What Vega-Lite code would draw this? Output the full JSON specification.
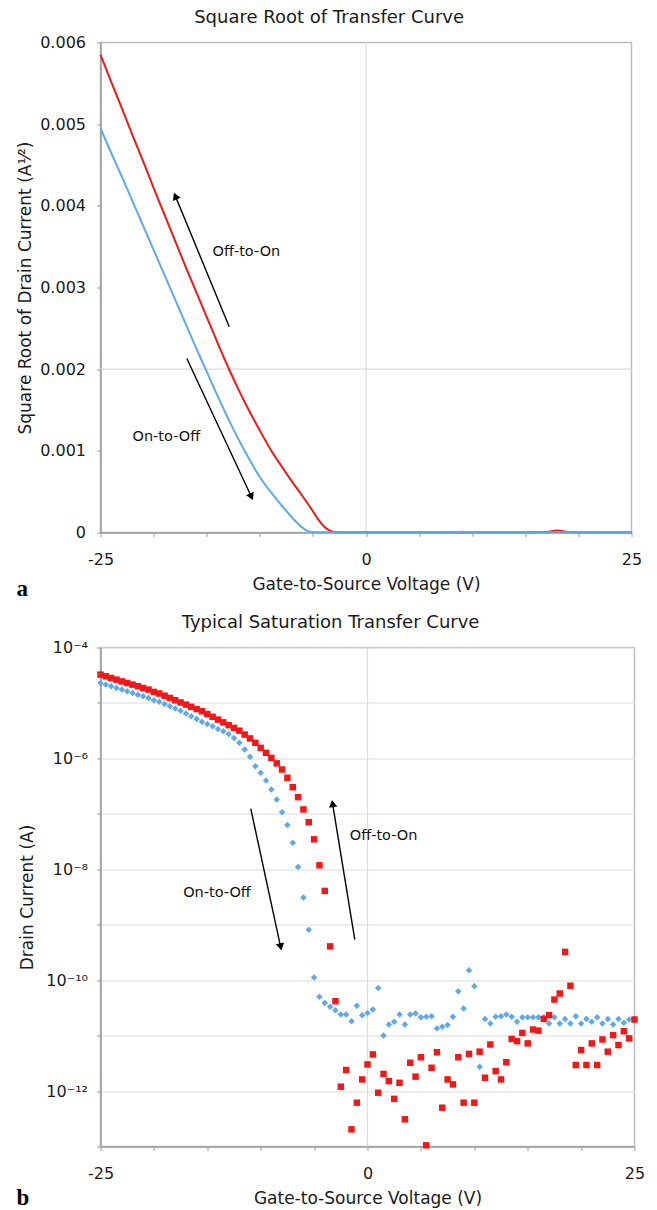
{
  "$schema": "https://vega.github.io/schema/vega-lite/v6.json",
  "background": "white",
  "padding": {"left": 15.5, "top": 7.5, "right": 5, "bottom": 2},
  "spacing": 11,
  "config": {
    "font": "DejaVu Sans",
    "view": {"stroke": "#bdbdbd", "strokeWidth": 1.5},
    "title": {"font": "DejaVu Sans", "fontSize": 18, "fontWeight": "normal", "color": "#1a1a1a", "offset": 7.5, "frame": "bounds", "anchor": "middle"},
    "axis": {
      "labelFont": "DejaVu Sans", "titleFont": "DejaVu Sans",
      "labelFontSize": 16, "titleFontSize": 17, "titleFontWeight": "normal",
      "labelColor": "#1a1a1a", "titleColor": "#1a1a1a",
      "domainColor": "#9a9a9a", "domainWidth": 1.5,
      "tickColor": "#9a9a9a", "tickSize": 4,
      "gridColor": "#dcdcdc", "gridWidth": 1.2,
      "labelFlush": false, "labelOverlap": false
    }
  },
  "datasets": {
    "sqrt": [
      {"v": -25, "r": 0.00585, "s": "Off-to-On"}, {"v": -24, "r": 0.00552, "s": "Off-to-On"}, {"v": -23, "r": 0.0052, "s": "Off-to-On"},
      {"v": -22, "r": 0.00487, "s": "Off-to-On"}, {"v": -21, "r": 0.00455, "s": "Off-to-On"}, {"v": -20, "r": 0.00422, "s": "Off-to-On"},
      {"v": -19, "r": 0.0039, "s": "Off-to-On"}, {"v": -18, "r": 0.00358, "s": "Off-to-On"}, {"v": -17, "r": 0.00326, "s": "Off-to-On"},
      {"v": -16, "r": 0.00295, "s": "Off-to-On"}, {"v": -15, "r": 0.00264, "s": "Off-to-On"}, {"v": -14, "r": 0.00233, "s": "Off-to-On"},
      {"v": -13, "r": 0.00203, "s": "Off-to-On"}, {"v": -12, "r": 0.00175, "s": "Off-to-On"}, {"v": -11, "r": 0.00149, "s": "Off-to-On"},
      {"v": -10, "r": 0.00125, "s": "Off-to-On"}, {"v": -9, "r": 0.00102, "s": "Off-to-On"}, {"v": -8, "r": 0.00082, "s": "Off-to-On"},
      {"v": -7, "r": 0.00063, "s": "Off-to-On"}, {"v": -6, "r": 0.00045, "s": "Off-to-On"}, {"v": -5, "r": 0.00026, "s": "Off-to-On"},
      {"v": -4.5, "r": 0.00016, "s": "Off-to-On"}, {"v": -4, "r": 0.00008, "s": "Off-to-On"}, {"v": -3.5, "r": 0.00003, "s": "Off-to-On"},
      {"v": -3, "r": 0.000006, "s": "Off-to-On"}, {"v": -2, "r": 0.000003, "s": "Off-to-On"}, {"v": 0, "r": 0.000003, "s": "Off-to-On"},
      {"v": 5, "r": 0.000003, "s": "Off-to-On"}, {"v": 10, "r": 0.000003, "s": "Off-to-On"}, {"v": 15, "r": 0.000004, "s": "Off-to-On"},
      {"v": 17, "r": 0.000005, "s": "Off-to-On"}, {"v": 18, "r": 0.000025, "s": "Off-to-On"}, {"v": 19, "r": 0.000006, "s": "Off-to-On"},
      {"v": 20, "r": 0.000004, "s": "Off-to-On"}, {"v": 25, "r": 0.000004, "s": "Off-to-On"},
      {"v": -25, "r": 0.00495, "s": "On-to-Off"}, {"v": -24, "r": 0.00465, "s": "On-to-Off"}, {"v": -23, "r": 0.00436, "s": "On-to-Off"},
      {"v": -22, "r": 0.00406, "s": "On-to-Off"}, {"v": -21, "r": 0.00376, "s": "On-to-Off"}, {"v": -20, "r": 0.00346, "s": "On-to-Off"},
      {"v": -19, "r": 0.00316, "s": "On-to-Off"}, {"v": -18, "r": 0.00286, "s": "On-to-Off"}, {"v": -17, "r": 0.00256, "s": "On-to-Off"},
      {"v": -16, "r": 0.00226, "s": "On-to-Off"}, {"v": -15, "r": 0.00197, "s": "On-to-Off"}, {"v": -14, "r": 0.00168, "s": "On-to-Off"},
      {"v": -13, "r": 0.0014, "s": "On-to-Off"}, {"v": -12, "r": 0.00114, "s": "On-to-Off"}, {"v": -11, "r": 0.0009, "s": "On-to-Off"},
      {"v": -10, "r": 0.00068, "s": "On-to-Off"}, {"v": -9, "r": 0.0005, "s": "On-to-Off"}, {"v": -8, "r": 0.00034, "s": "On-to-Off"},
      {"v": -7, "r": 0.00019, "s": "On-to-Off"}, {"v": -6.5, "r": 0.00012, "s": "On-to-Off"}, {"v": -6, "r": 0.00006, "s": "On-to-Off"},
      {"v": -5.5, "r": 0.00002, "s": "On-to-Off"}, {"v": -5, "r": 0.000006, "s": "On-to-Off"}, {"v": -4, "r": 0.000002, "s": "On-to-Off"},
      {"v": 0, "r": 0.000002, "s": "On-to-Off"}, {"v": 8, "r": 0.000003, "s": "On-to-Off"}, {"v": 9, "r": 0.000008, "s": "On-to-Off"},
      {"v": 10, "r": 0.000004, "s": "On-to-Off"}, {"v": 15, "r": 0.000002, "s": "On-to-Off"}, {"v": 25, "r": 0.000002, "s": "On-to-Off"}
    ],
    "ids": [
      {"v": -25, "i": 2.29e-5, "s": "On-to-Off"}, {"v": -24.5, "i": 2.14e-5, "s": "On-to-Off"}, {"v": -24, "i": 2.0e-5, "s": "On-to-Off"},
      {"v": -23.5, "i": 1.86e-5, "s": "On-to-Off"}, {"v": -23, "i": 1.74e-5, "s": "On-to-Off"}, {"v": -22.5, "i": 1.62e-5, "s": "On-to-Off"},
      {"v": -22, "i": 1.51e-5, "s": "On-to-Off"}, {"v": -21.5, "i": 1.41e-5, "s": "On-to-Off"}, {"v": -21, "i": 1.32e-5, "s": "On-to-Off"},
      {"v": -20.5, "i": 1.23e-5, "s": "On-to-Off"}, {"v": -20, "i": 1.12e-5, "s": "On-to-Off"}, {"v": -19.5, "i": 1.05e-5, "s": "On-to-Off"},
      {"v": -19, "i": 9.55e-6, "s": "On-to-Off"}, {"v": -18.5, "i": 8.71e-6, "s": "On-to-Off"}, {"v": -18, "i": 7.94e-6, "s": "On-to-Off"},
      {"v": -17.5, "i": 7.24e-6, "s": "On-to-Off"}, {"v": -17, "i": 6.46e-6, "s": "On-to-Off"}, {"v": -16.5, "i": 5.75e-6, "s": "On-to-Off"},
      {"v": -16, "i": 5.13e-6, "s": "On-to-Off"}, {"v": -15.5, "i": 4.57e-6, "s": "On-to-Off"}, {"v": -15, "i": 4.17e-6, "s": "On-to-Off"},
      {"v": -14.5, "i": 3.8e-6, "s": "On-to-Off"}, {"v": -14, "i": 3.39e-6, "s": "On-to-Off"}, {"v": -13.5, "i": 3.09e-6, "s": "On-to-Off"},
      {"v": -13, "i": 2.75e-6, "s": "On-to-Off"}, {"v": -12.5, "i": 2.34e-6, "s": "On-to-Off"}, {"v": -12, "i": 1.91e-6, "s": "On-to-Off"},
      {"v": -11.5, "i": 1.45e-6, "s": "On-to-Off"}, {"v": -11, "i": 1.07e-6, "s": "On-to-Off"}, {"v": -10.5, "i": 7.24e-7, "s": "On-to-Off"},
      {"v": -10, "i": 5.5e-7, "s": "On-to-Off"}, {"v": -9.5, "i": 3.98e-7, "s": "On-to-Off"}, {"v": -9, "i": 2.75e-7, "s": "On-to-Off"},
      {"v": -8.5, "i": 1.82e-7, "s": "On-to-Off"}, {"v": -8, "i": 1.07e-7, "s": "On-to-Off"}, {"v": -7.5, "i": 6.31e-8, "s": "On-to-Off"},
      {"v": -7, "i": 3.02e-8, "s": "On-to-Off"}, {"v": -6.5, "i": 1.1e-8, "s": "On-to-Off"}, {"v": -6, "i": 3.09e-9, "s": "On-to-Off"},
      {"v": -5.5, "i": 8.13e-10, "s": "On-to-Off"}, {"v": -5, "i": 1.12e-10, "s": "On-to-Off"}, {"v": -4.5, "i": 5.01e-11, "s": "On-to-Off"},
      {"v": -4, "i": 3.89e-11, "s": "On-to-Off"}, {"v": -3.5, "i": 3.31e-11, "s": "On-to-Off"}, {"v": -3, "i": 2.88e-11, "s": "On-to-Off"},
      {"v": -2.5, "i": 2.4e-11, "s": "On-to-Off"}, {"v": -2, "i": 2.4e-11, "s": "On-to-Off"}, {"v": -1.5, "i": 1.82e-11, "s": "On-to-Off"},
      {"v": -1, "i": 3.47e-11, "s": "On-to-Off"}, {"v": -0.5, "i": 2.34e-11, "s": "On-to-Off"}, {"v": 0, "i": 2.57e-11, "s": "On-to-Off"},
      {"v": 0.5, "i": 2.95e-11, "s": "On-to-Off"}, {"v": 1, "i": 7.24e-11, "s": "On-to-Off"}, {"v": 1.5, "i": 1.0e-11, "s": "On-to-Off"},
      {"v": 2, "i": 1.58e-11, "s": "On-to-Off"}, {"v": 2.5, "i": 1.78e-11, "s": "On-to-Off"}, {"v": 3, "i": 2.4e-11, "s": "On-to-Off"},
      {"v": 3.5, "i": 1.58e-11, "s": "On-to-Off"}, {"v": 4, "i": 2.4e-11, "s": "On-to-Off"}, {"v": 4.5, "i": 2.51e-11, "s": "On-to-Off"},
      {"v": 5, "i": 2.14e-11, "s": "On-to-Off"}, {"v": 5.5, "i": 2.19e-11, "s": "On-to-Off"}, {"v": 6, "i": 2.24e-11, "s": "On-to-Off"},
      {"v": 6.5, "i": 1.35e-11, "s": "On-to-Off"}, {"v": 7, "i": 1.45e-11, "s": "On-to-Off"}, {"v": 7.5, "i": 1.55e-11, "s": "On-to-Off"},
      {"v": 8, "i": 2.19e-11, "s": "On-to-Off"}, {"v": 8.5, "i": 6.31e-11, "s": "On-to-Off"}, {"v": 9, "i": 3.09e-11, "s": "On-to-Off"},
      {"v": 9.5, "i": 1.51e-10, "s": "On-to-Off"}, {"v": 10, "i": 7.76e-11, "s": "On-to-Off"}, {"v": 10.5, "i": 2.75e-12, "s": "On-to-Off"},
      {"v": 11, "i": 2.0e-11, "s": "On-to-Off"}, {"v": 11.5, "i": 1.66e-11, "s": "On-to-Off"}, {"v": 12, "i": 2.19e-11, "s": "On-to-Off"},
      {"v": 12.5, "i": 2.24e-11, "s": "On-to-Off"}, {"v": 13, "i": 2.4e-11, "s": "On-to-Off"}, {"v": 13.5, "i": 2.19e-11, "s": "On-to-Off"},
      {"v": 14, "i": 1.78e-11, "s": "On-to-Off"}, {"v": 14.5, "i": 2.14e-11, "s": "On-to-Off"}, {"v": 15, "i": 2.14e-11, "s": "On-to-Off"},
      {"v": 15.5, "i": 2.14e-11, "s": "On-to-Off"}, {"v": 16, "i": 2.14e-11, "s": "On-to-Off"}, {"v": 16.5, "i": 2.14e-11, "s": "On-to-Off"},
      {"v": 17, "i": 1.66e-11, "s": "On-to-Off"}, {"v": 17.5, "i": 2.14e-11, "s": "On-to-Off"}, {"v": 18, "i": 1.66e-11, "s": "On-to-Off"},
      {"v": 18.5, "i": 2.0e-11, "s": "On-to-Off"}, {"v": 19, "i": 1.66e-11, "s": "On-to-Off"}, {"v": 19.5, "i": 2.24e-11, "s": "On-to-Off"},
      {"v": 20, "i": 1.66e-11, "s": "On-to-Off"}, {"v": 20.5, "i": 2.0e-11, "s": "On-to-Off"}, {"v": 21, "i": 1.78e-11, "s": "On-to-Off"},
      {"v": 21.5, "i": 2.14e-11, "s": "On-to-Off"}, {"v": 22, "i": 1.66e-11, "s": "On-to-Off"}, {"v": 22.5, "i": 2.0e-11, "s": "On-to-Off"},
      {"v": 23, "i": 1.58e-11, "s": "On-to-Off"}, {"v": 23.5, "i": 2.0e-11, "s": "On-to-Off"}, {"v": 24, "i": 1.7e-11, "s": "On-to-Off"},
      {"v": 24.5, "i": 1.95e-11, "s": "On-to-Off"}, {"v": 25, "i": 1.95e-11, "s": "On-to-Off"},
      {"v": -25, "i": 3.24e-5, "s": "Off-to-On"}, {"v": -24.5, "i": 3.02e-5, "s": "Off-to-On"}, {"v": -24, "i": 2.82e-5, "s": "Off-to-On"},
      {"v": -23.5, "i": 2.63e-5, "s": "Off-to-On"}, {"v": -23, "i": 2.45e-5, "s": "Off-to-On"}, {"v": -22.5, "i": 2.29e-5, "s": "Off-to-On"},
      {"v": -22, "i": 2.14e-5, "s": "Off-to-On"}, {"v": -21.5, "i": 2.0e-5, "s": "Off-to-On"}, {"v": -21, "i": 1.86e-5, "s": "Off-to-On"},
      {"v": -20.5, "i": 1.74e-5, "s": "Off-to-On"}, {"v": -20, "i": 1.58e-5, "s": "Off-to-On"}, {"v": -19.5, "i": 1.48e-5, "s": "Off-to-On"},
      {"v": -19, "i": 1.35e-5, "s": "Off-to-On"}, {"v": -18.5, "i": 1.23e-5, "s": "Off-to-On"}, {"v": -18, "i": 1.12e-5, "s": "Off-to-On"},
      {"v": -17.5, "i": 1.02e-5, "s": "Off-to-On"}, {"v": -17, "i": 9.33e-6, "s": "Off-to-On"}, {"v": -16.5, "i": 8.51e-6, "s": "Off-to-On"},
      {"v": -16, "i": 7.76e-6, "s": "Off-to-On"}, {"v": -15.5, "i": 7.08e-6, "s": "Off-to-On"}, {"v": -15, "i": 6.31e-6, "s": "Off-to-On"},
      {"v": -14.5, "i": 5.62e-6, "s": "Off-to-On"}, {"v": -14, "i": 5.01e-6, "s": "Off-to-On"}, {"v": -13.5, "i": 4.47e-6, "s": "Off-to-On"},
      {"v": -13, "i": 3.98e-6, "s": "Off-to-On"}, {"v": -12.5, "i": 3.55e-6, "s": "Off-to-On"}, {"v": -12, "i": 3.16e-6, "s": "Off-to-On"},
      {"v": -11.5, "i": 2.69e-6, "s": "Off-to-On"}, {"v": -11, "i": 2.29e-6, "s": "Off-to-On"}, {"v": -10.5, "i": 1.91e-6, "s": "Off-to-On"},
      {"v": -10, "i": 1.55e-6, "s": "Off-to-On"}, {"v": -9.5, "i": 1.26e-6, "s": "Off-to-On"}, {"v": -9, "i": 1.02e-6, "s": "Off-to-On"},
      {"v": -8.5, "i": 8.13e-7, "s": "Off-to-On"}, {"v": -8, "i": 6.31e-7, "s": "Off-to-On"}, {"v": -7.5, "i": 4.47e-7, "s": "Off-to-On"},
      {"v": -7, "i": 3.02e-7, "s": "Off-to-On"}, {"v": -6.5, "i": 2.0e-7, "s": "Off-to-On"}, {"v": -6, "i": 1.2e-7, "s": "Off-to-On"},
      {"v": -5.5, "i": 7.08e-8, "s": "Off-to-On"}, {"v": -5, "i": 3.47e-8, "s": "Off-to-On"}, {"v": -4.5, "i": 1.18e-8, "s": "Off-to-On"},
      {"v": -4, "i": 4.07e-9, "s": "Off-to-On"}, {"v": -3.5, "i": 4.07e-10, "s": "Off-to-On"}, {"v": -3, "i": 4.17e-11, "s": "Off-to-On"},
      {"v": -2.5, "i": 1.2e-12, "s": "Off-to-On"}, {"v": -2, "i": 2.4e-12, "s": "Off-to-On"}, {"v": -1.5, "i": 2.04e-13, "s": "Off-to-On"},
      {"v": -1, "i": 6.17e-13, "s": "Off-to-On"}, {"v": -0.5, "i": 1.62e-12, "s": "Off-to-On"}, {"v": 0, "i": 3.02e-12, "s": "Off-to-On"},
      {"v": 0.5, "i": 4.57e-12, "s": "Off-to-On"}, {"v": 1, "i": 9.33e-13, "s": "Off-to-On"}, {"v": 1.5, "i": 2.04e-12, "s": "Off-to-On"},
      {"v": 2, "i": 1.51e-12, "s": "Off-to-On"}, {"v": 2.5, "i": 7.24e-13, "s": "Off-to-On"}, {"v": 3, "i": 1.41e-12, "s": "Off-to-On"},
      {"v": 3.5, "i": 3.09e-13, "s": "Off-to-On"}, {"v": 4, "i": 3.24e-12, "s": "Off-to-On"}, {"v": 4.5, "i": 1.82e-12, "s": "Off-to-On"},
      {"v": 5, "i": 4.07e-12, "s": "Off-to-On"}, {"v": 5.5, "i": 1.05e-13, "s": "Off-to-On"}, {"v": 6, "i": 2.63e-12, "s": "Off-to-On"},
      {"v": 6.5, "i": 5.01e-12, "s": "Off-to-On"}, {"v": 7, "i": 5.01e-13, "s": "Off-to-On"}, {"v": 7.5, "i": 1.62e-12, "s": "Off-to-On"},
      {"v": 8, "i": 1.32e-12, "s": "Off-to-On"}, {"v": 8.5, "i": 4.07e-12, "s": "Off-to-On"}, {"v": 9, "i": 6.17e-13, "s": "Off-to-On"},
      {"v": 9.5, "i": 4.68e-12, "s": "Off-to-On"}, {"v": 10, "i": 6.17e-13, "s": "Off-to-On"}, {"v": 10.5, "i": 5.13e-12, "s": "Off-to-On"},
      {"v": 11, "i": 1.74e-12, "s": "Off-to-On"}, {"v": 11.5, "i": 6.92e-12, "s": "Off-to-On"}, {"v": 12, "i": 2.29e-12, "s": "Off-to-On"},
      {"v": 12.5, "i": 1.62e-12, "s": "Off-to-On"}, {"v": 13, "i": 3.31e-12, "s": "Off-to-On"}, {"v": 13.5, "i": 8.71e-12, "s": "Off-to-On"},
      {"v": 14, "i": 7.94e-12, "s": "Off-to-On"}, {"v": 14.5, "i": 1.12e-11, "s": "Off-to-On"}, {"v": 15, "i": 7.24e-12, "s": "Off-to-On"},
      {"v": 15.5, "i": 1.29e-11, "s": "Off-to-On"}, {"v": 16, "i": 1.23e-11, "s": "Off-to-On"}, {"v": 16.5, "i": 2.0e-11, "s": "Off-to-On"},
      {"v": 17, "i": 2.34e-11, "s": "Off-to-On"}, {"v": 17.5, "i": 4.47e-11, "s": "Off-to-On"}, {"v": 18, "i": 5.75e-11, "s": "Off-to-On"},
      {"v": 18.5, "i": 3.24e-10, "s": "Off-to-On"}, {"v": 19, "i": 7.94e-11, "s": "Off-to-On"}, {"v": 19.5, "i": 2.95e-12, "s": "Off-to-On"},
      {"v": 20, "i": 5.5e-12, "s": "Off-to-On"}, {"v": 20.5, "i": 2.95e-12, "s": "Off-to-On"}, {"v": 21, "i": 7.24e-12, "s": "Off-to-On"},
      {"v": 21.5, "i": 2.95e-12, "s": "Off-to-On"}, {"v": 22, "i": 8.51e-12, "s": "Off-to-On"}, {"v": 22.5, "i": 5.13e-12, "s": "Off-to-On"},
      {"v": 23, "i": 1.02e-11, "s": "Off-to-On"}, {"v": 23.5, "i": 6.76e-12, "s": "Off-to-On"}, {"v": 24, "i": 1.2e-11, "s": "Off-to-On"},
      {"v": 24.5, "i": 8.91e-12, "s": "Off-to-On"}, {"v": 25, "i": 1.95e-11, "s": "Off-to-On"}
    ]
  },
  "vconcat": [
    {
      "width": 531,
      "height": 490,
      "title": {"text": "Square Root of Transfer Curve"},
      "layer": [
        {
          "data": {"values": [{}]},
          "mark": {"type": "rule", "color": "#dcdcdc", "strokeWidth": 1.2},
          "encoding": {
            "x": {"datum": 0, "type": "quantitative", "scale": {"domain": [-25, 25], "nice": false},
              "axis": {"title": "Gate-to-Source Voltage (V)", "values": [-25, -20, -15, -10, -5, 0, 5, 10, 15, 20, 25],
                "labelExpr": "datum.value == -25 ? '-25' : datum.value == 0 ? '0' : datum.value == 25 ? '25' : ''",
                "labelPadding": 15, "titlePadding": 9, "grid": false}}
          }
        },
        {
          "data": {"values": [{}]},
          "mark": {"type": "rule", "color": "#dcdcdc", "strokeWidth": 1.2},
          "encoding": {
            "y": {"datum": 0.002, "type": "quantitative", "scale": {"domain": [0, 0.006], "nice": false},
              "axis": {"title": "Square Root of Drain Current (A¹⁄²)", "values": [0, 0.001, 0.002, 0.003, 0.004, 0.005, 0.006],
                "labelExpr": "datum.value == 0 ? '0' : format(datum.value, '.3f')",
                "labelPadding": 11, "titlePadding": 5, "grid": false}}
          }
        },
        {
          "data": {"name": "sqrt"},
          "mark": {"type": "line", "strokeWidth": 2, "interpolate": "monotone"},
          "encoding": {
            "x": {"field": "v", "type": "quantitative"},
            "y": {"field": "r", "type": "quantitative"},
            "color": {"field": "s", "type": "nominal", "scale": {"domain": ["On-to-Off", "Off-to-On"], "range": ["#5ea9ea", "#f01818"]}, "legend": null}
          }
        },
        {
          "data": {"values": [
            {"x1": -12.88, "y1": 0.00252, "x2": -17.95, "y2": 0.004119},
            {"x1": -16.87, "y1": 0.00213, "x2": -10.79, "y2": 0.000438}
          ]},
          "mark": {"type": "rule", "color": "black", "strokeWidth": 1.4},
          "encoding": {
            "x": {"field": "x1", "type": "quantitative"},
            "y": {"field": "y1", "type": "quantitative"},
            "x2": {"field": "x2"},
            "y2": {"field": "y2"}
          }
        },
        {
          "data": {"values": [{"x": -17.95, "y": 0.004119}]},
          "mark": {"type": "point", "shape": "triangle-up", "filled": true, "color": "black", "opacity": 1, "size": 70, "angle": 337.6},
          "encoding": {
            "x": {"field": "x", "type": "quantitative"},
            "y": {"field": "y", "type": "quantitative"}
          }
        },
        {
          "data": {"values": [{"x": -10.79, "y": 0.000438}]},
          "mark": {"type": "point", "shape": "triangle-up", "filled": true, "color": "black", "opacity": 1, "size": 70, "angle": 154.9},
          "encoding": {
            "x": {"field": "x", "type": "quantitative"},
            "y": {"field": "y", "type": "quantitative"}
          }
        },
        {
          "data": {"values": [
            {"x": -14.45, "y": 0.00343, "label": "Off-to-On"},
            {"x": -21.99, "y": 0.001175, "label": "On-to-Off"}
          ]},
          "mark": {"type": "text", "align": "left", "baseline": "middle", "fontSize": 14.5, "color": "#111"},
          "encoding": {
            "x": {"field": "x", "type": "quantitative"},
            "y": {"field": "y", "type": "quantitative"},
            "text": {"field": "label"}
          }
        },
        {
          "data": {"values": [{"x": -25, "y": 0, "label": "a"}]},
          "mark": {"type": "text", "align": "left", "baseline": "alphabetic", "font": "Liberation Serif", "fontSize": 23, "fontWeight": "bold", "color": "black", "dx": -84, "dy": 63},
          "encoding": {
            "x": {"field": "x", "type": "quantitative"},
            "y": {"field": "y", "type": "quantitative"},
            "text": {"field": "label"}
          }
        }
      ]
    },
    {
      "width": 534,
      "height": 499,
      "title": {"text": "Typical Saturation Transfer Curve"},
      "layer": [
        {
          "data": {"values": [{}]},
          "mark": {"type": "rule", "color": "#dcdcdc", "strokeWidth": 1.2},
          "encoding": {
            "x": {"datum": 0, "type": "quantitative", "scale": {"domain": [-25, 25], "nice": false},
              "axis": {"title": "Gate-to-Source Voltage (V)", "values": [-25, -20, -15, -10, -5, 0, 5, 10, 15, 20, 25],
                "labelExpr": "datum.value == -25 ? '-25' : datum.value == 0 ? '0' : datum.value == 25 ? '25' : ''",
                "labelPadding": 15, "titlePadding": 9, "grid": false}}
          }
        },
        {
          "data": {"name": "ids"},
          "mark": {"type": "point", "filled": true, "opacity": 1, "size": 42},
          "encoding": {
            "x": {"field": "v", "type": "quantitative"},
            "y": {"field": "i", "type": "quantitative", "scale": {"type": "log", "domain": [1e-13, 1e-4], "nice": false},
              "axis": {"title": "Drain Current (A)", "values": [1e-13, 1e-12, 1e-11, 1e-10, 1e-9, 1e-8, 1e-7, 1e-6, 1e-5, 1e-4],
                "labelExpr": "round(log(datum.value)/LN10) == -4 ? '10⁻⁴' : round(log(datum.value)/LN10) == -6 ? '10⁻⁶' : round(log(datum.value)/LN10) == -8 ? '10⁻⁸' : round(log(datum.value)/LN10) == -10 ? '10⁻¹⁰' : round(log(datum.value)/LN10) == -12 ? '10⁻¹²' : ''",
                "labelPadding": 9, "titlePadding": 9, "grid": true}},
            "color": {"field": "s", "type": "nominal", "scale": {"domain": ["On-to-Off", "Off-to-On"], "range": ["#5ea9ea", "#f01818"]}, "legend": null},
            "shape": {"field": "s", "type": "nominal", "scale": {"domain": ["On-to-Off", "Off-to-On"], "range": ["diamond", "square"]}, "legend": null}
          }
        },
        {
          "data": {"values": [
            {"x1": -10.93, "y1": 1.24e-7, "x2": -8.13, "y2": 3.96e-10},
            {"x1": -1.19, "y1": 5.41e-10, "x2": -3.27, "y2": 1.53e-7}
          ]},
          "mark": {"type": "rule", "color": "black", "strokeWidth": 1.4},
          "encoding": {
            "x": {"field": "x1", "type": "quantitative"},
            "y": {"field": "y1", "type": "quantitative"},
            "x2": {"field": "x2"},
            "y2": {"field": "y2"}
          }
        },
        {
          "data": {"values": [{"x": -8.13, "y": 3.96e-10}]},
          "mark": {"type": "point", "shape": "triangle-up", "filled": true, "color": "black", "opacity": 1, "size": 70, "angle": 167.8},
          "encoding": {
            "x": {"field": "x", "type": "quantitative"},
            "y": {"field": "y", "type": "quantitative"}
          }
        },
        {
          "data": {"values": [{"x": -3.27, "y": 1.53e-7}]},
          "mark": {"type": "point", "shape": "triangle-up", "filled": true, "color": "black", "opacity": 1, "size": 70, "angle": 350.7},
          "encoding": {
            "x": {"field": "x", "type": "quantitative"},
            "y": {"field": "y", "type": "quantitative"}
          }
        },
        {
          "data": {"values": [
            {"x": -17.26, "y": 3.74e-9, "label": "On-to-Off"},
            {"x": -1.66, "y": 3.94e-8, "label": "Off-to-On"}
          ]},
          "mark": {"type": "text", "align": "left", "baseline": "middle", "fontSize": 14.5, "color": "#111"},
          "encoding": {
            "x": {"field": "x", "type": "quantitative"},
            "y": {"field": "y", "type": "quantitative"},
            "text": {"field": "label"}
          }
        },
        {
          "data": {"values": [{"x": -25, "y": 1e-13, "label": "b"}]},
          "mark": {"type": "text", "align": "left", "baseline": "alphabetic", "font": "Liberation Serif", "fontSize": 23, "fontWeight": "bold", "color": "black", "dx": -84, "dy": 58},
          "encoding": {
            "x": {"field": "x", "type": "quantitative"},
            "y": {"field": "y", "type": "quantitative"},
            "text": {"field": "label"}
          }
        }
      ]
    }
  ]
}
